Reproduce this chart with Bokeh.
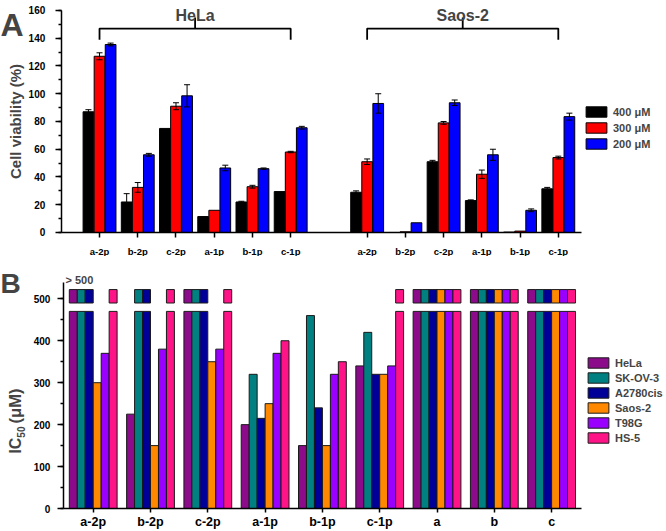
import numpy as np
from bokeh.plotting import figure
from bokeh.models import (ColumnDataSource, FixedTicker, SingleIntervalTicker, Whisker,
                          TeeHead, Legend, LegendItem, Label, Range1d)
from bokeh.layouts import column
from bokeh.embed import file_html
from bokeh.resources import INLINE

# ---------------- Panel A data ----------------
compounds = ["a-2p", "b-2p", "c-2p", "a-1p", "b-1p", "c-1p"]
cell_lines_A = ["HeLa", "Saos-2"]
conc_labels = ["400 μM", "300 μM", "200 μM"]
conc_colors = ["#000000", "#FF0000", "#0000FF"]

hela_400 = [87, 22, 75, 11.5, 22, 29.5]
hela_300 = [127, 32.5, 91, 16, 33, 58]
hela_200 = [135.5, 56, 98.5, 46.5, 46, 75.5]
hela_400_err = [1.5, 6, 0, 0, 0.5, 0]
hela_300_err = [2.5, 3.5, 2.5, 0, 1, 0.5]
hela_200_err = [1, 1, 8, 2, 0.5, 1]

saos_400 = [29, 0, 51, 23, 0.3, 31.5]
saos_300 = [51, 0.5, 79, 42, 1, 54]
saos_200 = [93, 7, 93.5, 56, 16, 83.5]
saos_400_err = [1, 0, 1, 0.5, 0, 1]
saos_300_err = [2, 0, 1, 3, 0, 1]
saos_200_err = [7, 0, 2, 4, 1, 2.5]

# ---------------- Panel B data ----------------
ic50_groups = ["a-2p", "b-2p", "c-2p", "a-1p", "b-1p", "c-1p", "a", "b", "c"]
ic50_lines = ["HeLa", "SK-OV-3", "A2780cis", "Saos-2", "T98G", "HS-5"]
ic50_colors = ["#8B0B8B", "#008080", "#000099", "#FF8800", "#9900FF", "#FF1488"]
# None means "> 500 μM"
ic50_hela = [None, 225, None, 200, 150, 340, None, None, None]
ic50_skov3 = [None, None, None, 320, 460, 420, None, None, None]
ic50_a2780cis = [None, None, None, 215, 240, 320, None, None, None]
ic50_saos2 = [300, 150, 350, 250, 150, 320, None, None, None]
ic50_t98g = [370, 380, 380, 370, 320, 340, None, None, None]
ic50_hs5 = [None, None, None, 400, 350, None, None, None, None]
ic50_all = [ic50_hela, ic50_skov3, ic50_a2780cis, ic50_saos2, ic50_t98g, ic50_hs5]

FONT = "Liberation Sans"

def style_axes(p):
    p.outline_line_color = None
    p.xgrid.visible = False
    p.ygrid.visible = False
    for ax in (p.xaxis, p.yaxis):
        ax.axis_line_width = 1.5
        ax.major_tick_line_width = 1.5
        ax.minor_tick_line_width = 1.5
        ax.major_tick_in = 0
        ax.minor_tick_in = 0
        ax.major_label_text_font = FONT
        ax.major_label_text_font_style = "bold"
        ax.axis_label_text_font = FONT
        ax.axis_label_text_font_style = "bold"
        ax.major_label_text_color = "#000000"
        ax.axis_line_color = "#000000"
        ax.major_tick_line_color = "#000000"
        ax.minor_tick_line_color = "#000000"

# ================= Panel A =================
XA0, XA1 = -1.0, 12.6          # axis extent
XA_LEFT = -2.59
pA = figure(width=666, height=256, output_backend="svg", toolbar_location=None,
            x_range=Range1d(XA_LEFT, 14.83), y_range=Range1d(-17.3, 167.2),
            min_border_left=0, min_border_right=0, min_border_top=0, min_border_bottom=0)
style_axes(pA)
pA.xaxis.fixed_location = 0
pA.yaxis.fixed_location = XA0
pA.xaxis.bounds = (XA0, XA1)
pA.yaxis.bounds = (0, 160)

hela_pos = np.arange(len(compounds))
saos_pos = np.arange(len(compounds)) + len(compounds) + 1
all_pos = np.concatenate([hela_pos, saos_pos])

vals_A = [(hela_400, saos_400, hela_400_err, saos_400_err),
          (hela_300, saos_300, hela_300_err, saos_300_err),
          (hela_200, saos_200, hela_200_err, saos_200_err)]
bw = 0.28
offs = [-0.29, 0.0, 0.29]
rendA = []
ex, eu, el = [], [], []
for j, (hv, sv, he, se) in enumerate(vals_A):
    xs = all_pos + offs[j]
    tops = list(hv) + list(sv)
    errs = list(he) + list(se)
    src = ColumnDataSource(dict(x=xs, top=tops))
    r = pA.vbar(x="x", top="top", width=bw, source=src, fill_color=conc_colors[j],
                line_color="black", line_width=1)
    rendA.append(r)
    for xx, t, e in zip(xs, tops, errs):
        if e > 0:
            ex.append(xx); eu.append(t + e); el.append(t - e)

wsrc = ColumnDataSource(dict(x=ex, upper=eu, lower=el))
wh = Whisker(source=wsrc, base="x", upper="upper", lower="lower", line_color="black",
             line_width=1, level="annotation",
             upper_head=TeeHead(size=6, line_color="black", line_width=1),
             lower_head=TeeHead(size=6, line_color="black", line_width=1))
pA.add_layout(wh)

# brackets + group titles
for name, pos in zip(cell_lines_A, [hela_pos, saos_pos]):
    x0, x1 = float(pos[0]), float(pos[-1])
    xm = (x0 + x1) / 2
    pA.line([x0, x0, x1, x1], [139, 147, 147, 139], line_color="black", line_width=1.8)
    pA.line([xm, xm], [147, 155], line_color="black", line_width=1.8)
    pA.add_layout(Label(x=xm, y=156.4, text=name, text_align="center",
                        text_baseline="alphabetic", text_font=FONT,
                        text_font_style="bold", text_font_size="16px"))

pA.xaxis.ticker = FixedTicker(ticks=list(all_pos))
pA.xaxis.major_label_overrides = {int(k): lab for k, lab in
                                  zip(all_pos, compounds + compounds)}
pA.xaxis.major_tick_out = 5
pA.xaxis.major_label_standoff = 9
pA.xaxis.major_label_text_font_size = "9.5px"
pA.yaxis.ticker = SingleIntervalTicker(interval=20, num_minor_ticks=2)
pA.yaxis.major_tick_out = 6
pA.yaxis.minor_tick_out = 3
pA.yaxis.major_label_standoff = 10
pA.yaxis.major_label_text_font_size = "10px"
pA.yaxis.axis_label = "Cell viability (%)"
pA.yaxis.axis_label_text_font_size = "15px"
pA.yaxis.axis_label_standoff = 2

legA = Legend(items=[LegendItem(label=conc_labels[j], renderers=[rendA[j]]) for j in range(3)],
              location=(583, 106), glyph_width=26, glyph_height=13, label_height=13,
              spacing=3, padding=0, margin=0, label_standoff=4,
              label_text_font=FONT, label_text_font_style="bold", label_text_font_size="11px",
              border_line_color=None, background_fill_alpha=0)
pA.add_layout(legA)

pA.add_layout(Label(x=XA_LEFT, y=149.9, text="A", text_align="left",
                    text_baseline="alphabetic", text_font=FONT, text_font_style="bold",
                    text_font_size="32px"))

# ================= Panel B =================
XB0, XB1 = -0.52, 8.52
XB_LEFT = -1.618
pB = figure(width=666, height=275, output_backend="svg", toolbar_location=None,
            x_range=Range1d(XB_LEFT, 10.005), y_range=Range1d(-54.8, 600.9),
            min_border_left=0, min_border_right=0, min_border_top=0, min_border_bottom=0)
style_axes(pB)
pB.xaxis.fixed_location = 0
pB.yaxis.fixed_location = XB0
pB.xaxis.bounds = (XB0, XB1)
pB.yaxis.bounds = (0, 540)

gpos = np.arange(len(ic50_groups))
bwB = 0.139
BREAK_LO, BREAK_HI, OVER_TOP = 470, 490, 522
rendB = []
for i, (vals, col) in enumerate(zip(ic50_all, ic50_colors)):
    xs = gpos + (i - 2.5) * bwB
    bx, bb, bt = [], [], []
    for xx, v in zip(xs, vals):
        if v is None:
            bx += [xx, xx]; bb += [0, BREAK_HI]; bt += [BREAK_LO, OVER_TOP]
        else:
            bx.append(xx); bb.append(0); bt.append(v)
    src = ColumnDataSource(dict(x=bx, bottom=bb, top=bt))
    r = pB.vbar(x="x", bottom="bottom", top="top", width=bwB, source=src,
                fill_color=col, line_color="#1a1a1a", line_width=1)
    rendB.append(r)

pB.xaxis.ticker = FixedTicker(ticks=list(gpos))
pB.xaxis.major_label_overrides = {int(k): lab for k, lab in zip(gpos, ic50_groups)}
pB.xaxis.major_tick_out = 4
pB.xaxis.major_label_standoff = 2
pB.xaxis.major_label_text_font_size = "12.5px"
pB.yaxis.ticker = SingleIntervalTicker(interval=100, num_minor_ticks=2)
pB.yaxis.major_tick_out = 6
pB.yaxis.minor_tick_out = 3
pB.yaxis.major_label_standoff = 7
pB.yaxis.major_label_text_font_size = "10px"

legB = Legend(items=[LegendItem(label=ic50_lines[i], renderers=[rendB[i]]) for i in range(6)],
              location=(585, 87), glyph_width=26, glyph_height=13, label_height=13,
              spacing=2, padding=0, margin=0, label_standoff=4,
              label_text_font=FONT, label_text_font_style="bold", label_text_font_size="11px",
              border_line_color=None, background_fill_alpha=0)
pB.add_layout(legB)

pB.add_layout(Label(x=XB0, y=546, x_offset=2, text="> 500", text_align="left",
                    text_baseline="middle", text_font=FONT, text_font_style="bold",
                    text_font_size="11px"))
pB.add_layout(Label(x=XB_LEFT, y=536.5, text="B", text_align="left",
                    text_baseline="alphabetic", text_font=FONT, text_font_style="bold",
                    text_font_size="28px"))
# y-axis label IC50 (μM), rotated
pB.add_layout(Label(x=XB_LEFT, y=131, x_offset=14.5, text="IC", angle=np.pi / 2,
                    text_align="left", text_baseline="middle", text_font=FONT,
                    text_font_style="bold", text_font_size="16px"))
pB.add_layout(Label(x=XB_LEFT, y=169, x_offset=20.5, text="50", angle=np.pi / 2,
                    text_align="left", text_baseline="middle", text_font=FONT,
                    text_font_style="bold", text_font_size="10px"))
pB.add_layout(Label(x=XB_LEFT, y=203, x_offset=14.5, text="(μM)", angle=np.pi / 2,
                    text_align="left", text_baseline="middle", text_font=FONT,
                    text_font_style="bold", text_font_size="16.5px"))

layout = column(pA, pB, spacing=0)
open("out.html", "w").write(file_html(layout, INLINE))
